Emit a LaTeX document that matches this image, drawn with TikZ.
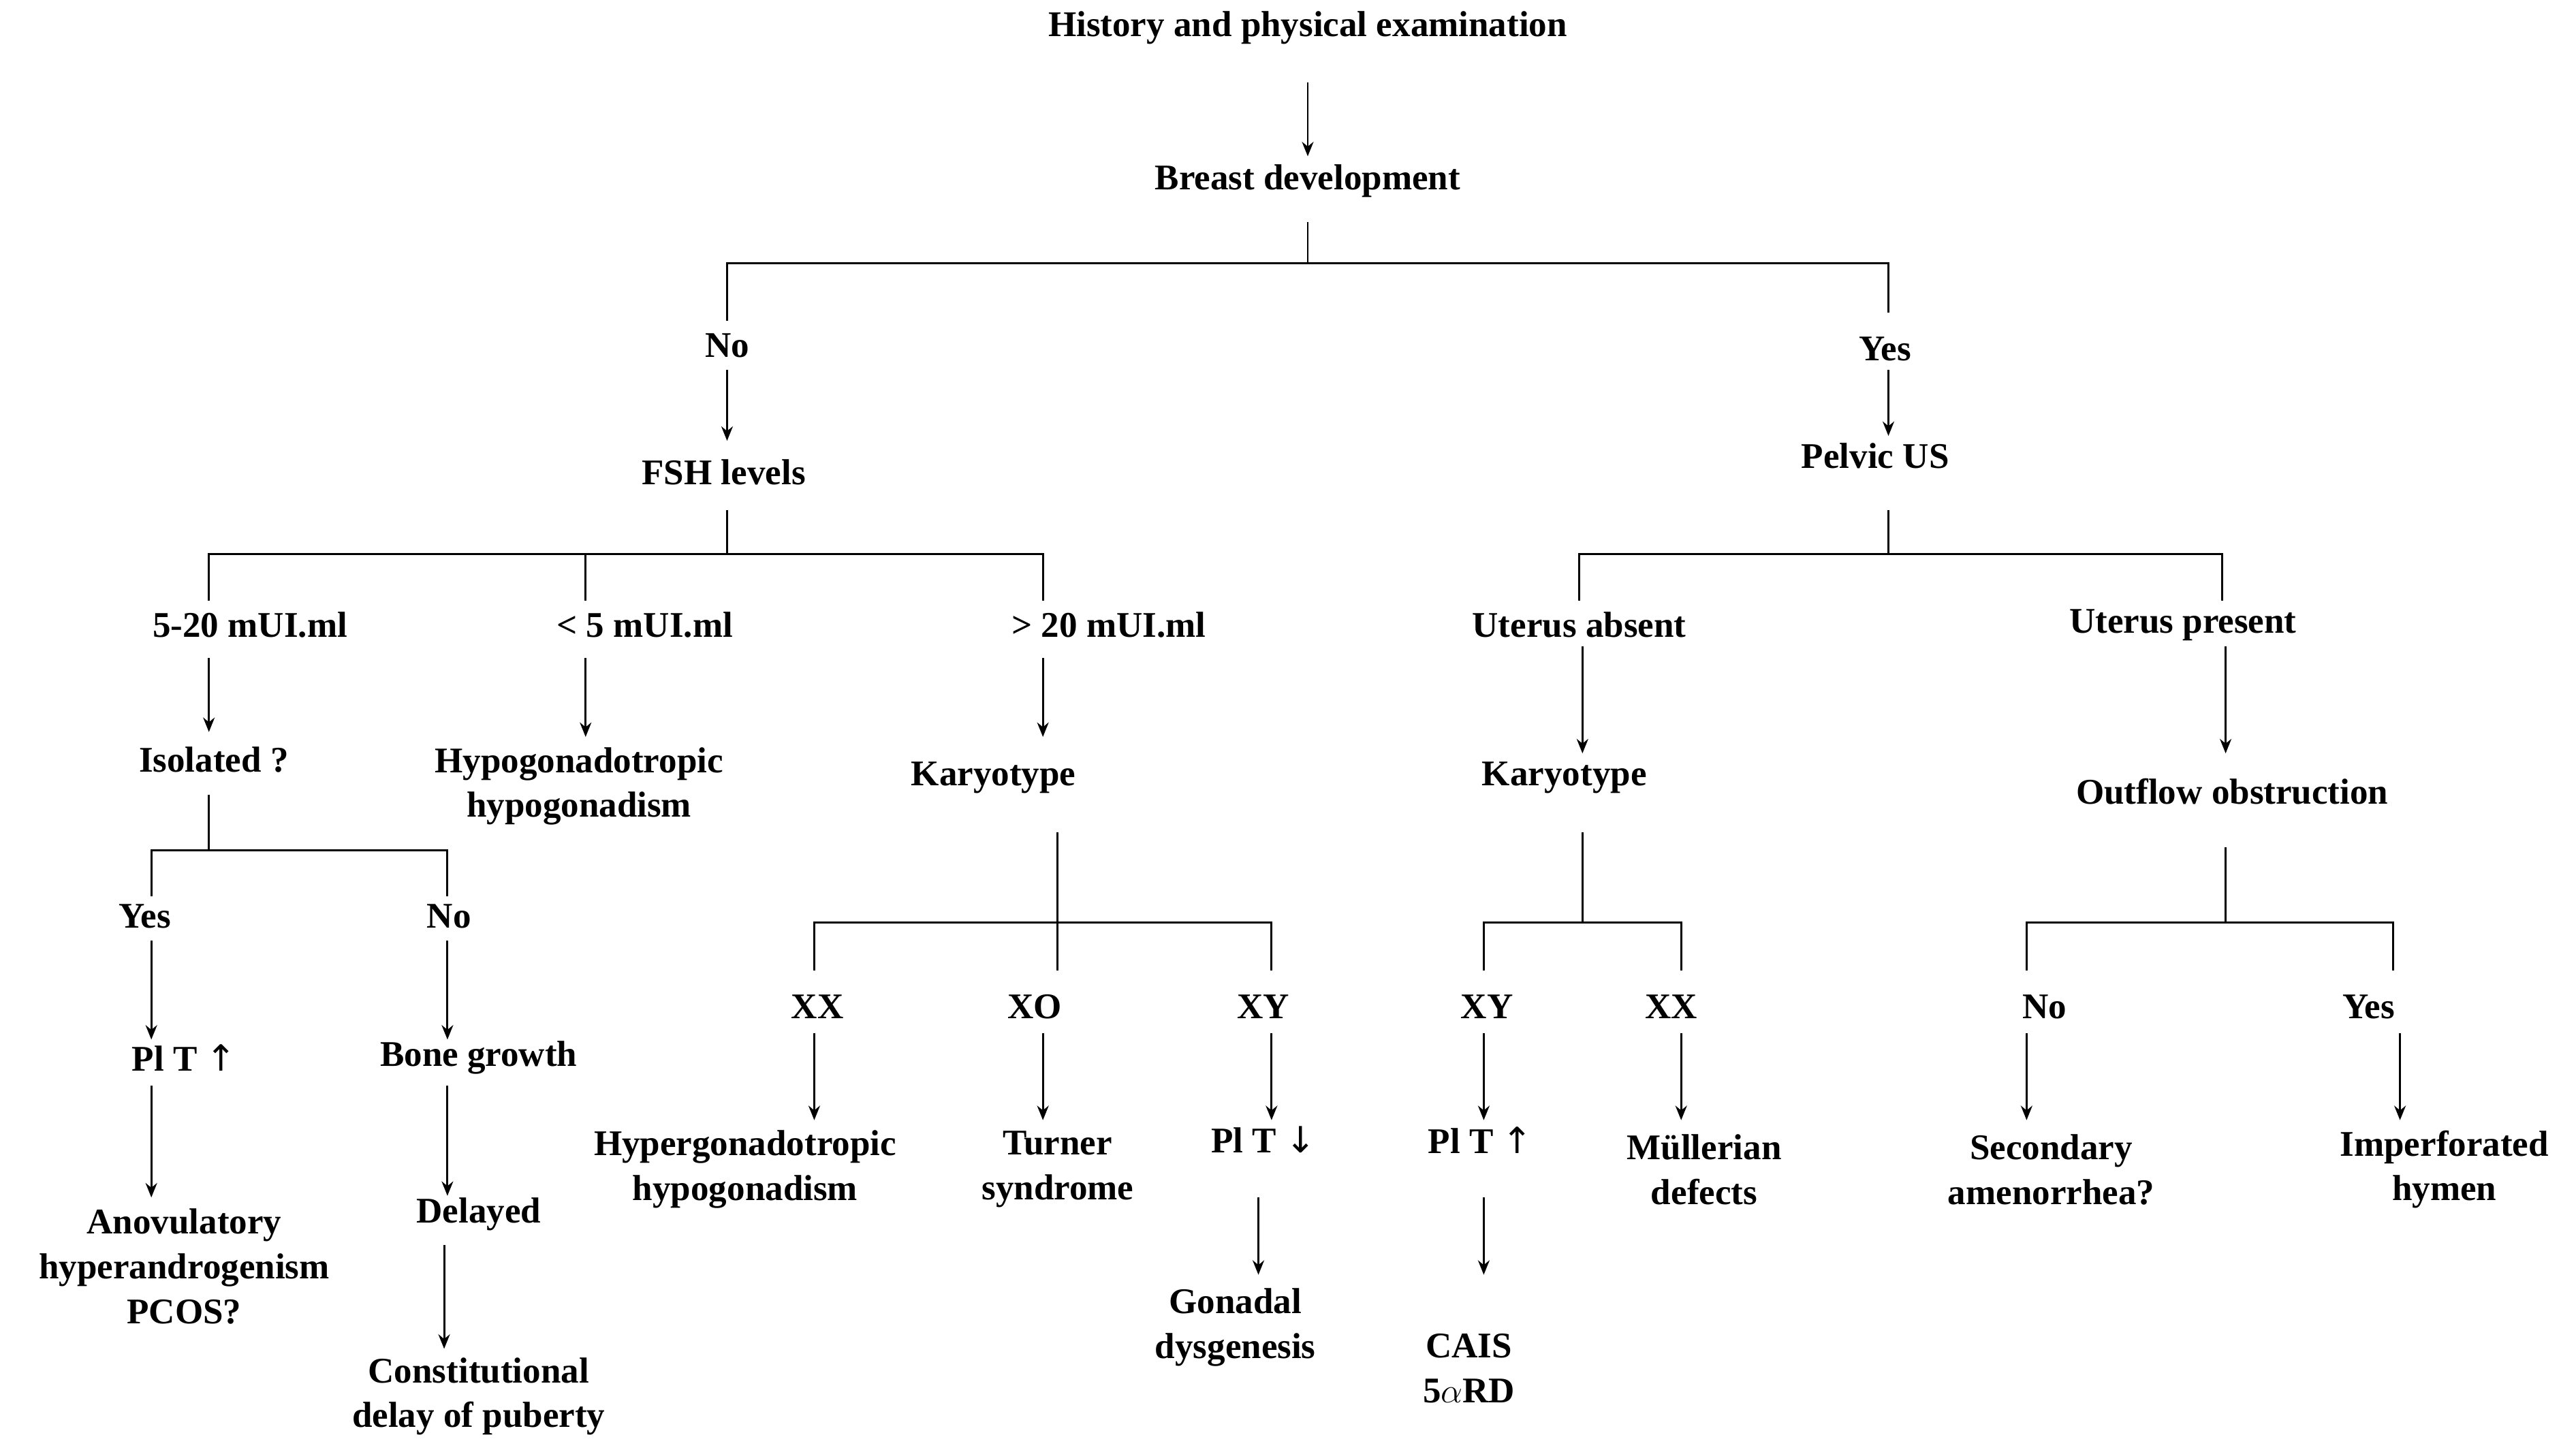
\documentclass[tikz,border=0pt]{standalone}
\usepackage{fontspec}
\setmainfont{Liberation Serif}
\newfontfamily\symf{DejaVu Sans}
\usetikzlibrary{arrows.meta}
\begin{document}
\begin{tikzpicture}[x=0.02cm,y=-0.02cm,
  lbl/.style={font=\fontsize{12.5}{15.5}\selectfont\bfseries,align=center,inner sep=1pt},
  ln/.style={line width=0.7pt},
  arr/.style={line width=0.7pt,-{Stealth[length=5pt,width=4pt]}}]
\useasboundingbox (0,0) rectangle (1566,881.5);
\newcommand{\up}{{\symf\mdseries\char"2191}}
\newcommand{\dn}{{\symf\mdseries\char"2193}}
\node[lbl] (hist) at (795,17) {History and physical examination};
\node[lbl] (breast) at (795,110) {Breast development};
\node[lbl] (no1) at (442,210) {No};
\node[lbl] (yes1) at (1146,212) {Yes};
\node[lbl] (fsh) at (440,287) {FSH levels};
\node[lbl] (pus) at (1140,277) {Pelvic US};
\node[lbl] (f1) at (152,380) {5-20 mUI.ml};
\node[lbl] (f2) at (392,380) {< 5 mUI.ml};
\node[lbl] (f3) at (674,380) {> 20 mUI.ml};
\node[lbl] (ua) at (960,380) {Uterus absent};
\node[lbl] (up) at (1327,380) {Uterus present};
\node[lbl] (iso) at (130,462) {Isolated ?};
\node[lbl] (hypo) at (352,478) {Hypogonadotropic\\hypogonadism};
\node[lbl] (kar1) at (604,473) {Karyotype};
\node[lbl] (kar2) at (951,473) {Karyotype};
\node[lbl] (out) at (1357,481) {Outflow obstruction};
\node[lbl] (yes2) at (88,557) {Yes};
\node[lbl] (no2) at (273,557) {No};
\node[lbl] (xx1) at (497,612) {XX};
\node[lbl] (xo) at (629,612) {XO};
\node[lbl] (xy1) at (768,612) {XY};
\node[lbl] (xy2) at (904,612) {XY};
\node[lbl] (xx2) at (1016,612) {XX};
\node[lbl] (no3) at (1243,612) {No};
\node[lbl] (yes3) at (1440,612) {Yes};
\node[lbl] (plt1) at (112,643) {Pl T \up};
\node[lbl] (bone) at (291,643) {Bone growth};
\node[lbl] (hyper) at (453,711) {Hypergonadotropic\\hypogonadism};
\node[lbl] (turner) at (643,711) {Turner\\syndrome};
\node[lbl] (plt2) at (768,693) {Pl T \dn};
\node[lbl] (plt3) at (900,693) {Pl T \up};
\node[lbl] (mull) at (1036,711) {Müllerian\\defects};
\node[lbl] (sec) at (1247,711) {Secondary\\amenorrhea?};
\node[lbl] (imp) at (1486,711) {Imperforated\\hymen};
\node[lbl] (anov) at (112,770) {Anovulatory\\hyperandrogenism\\PCOS?};
\node[lbl] (del) at (291,738) {Delayed};
\node[lbl] (gon) at (751,807) {Gonadal\\dysgenesis};
\node[lbl] (cais) at (893,832) {CAIS\\5$\alpha$RD};
\node[lbl] (const) at (291,849) {Constitutional\\delay of puberty};
% top
\draw[arr] (795,50) -- (795,95);
\draw[ln] (795,135) -- (795,160) (442,195) |- (1148,160) -- (1148,190);
\draw[arr] (442,225) -- (442,268);
\draw[arr] (1148,225) -- (1148,265);
% FSH
\draw[ln] (442,310) -- (442,337) (127,365) |- (634,337) -- (634,365) (356,337) -- (356,365);
\draw[arr] (127,400) -- (127,445);
\draw[arr] (356,400) -- (356,448);
\draw[arr] (634,400) -- (634,448);
% isolated
\draw[ln] (127,483) -- (127,517) (92,545) |- (272,517) -- (272,545);
\draw[arr] (92,572) -- (92,632);
\draw[arr] (272,572) -- (272,632);
\draw[arr] (92,660) -- (92,728);
\draw[arr] (272,660) -- (272,727);
\draw[arr] (270,757) -- (270,820);
% karyotype left
\draw[ln] (643,506) -- (643,590) (495,590) |- (773,561) -- (773,590);
\draw[arr] (495,628) -- (495,681);
\draw[arr] (634,628) -- (634,681);
\draw[arr] (773,628) -- (773,681);
\draw[arr] (765,728) -- (765,775);
% pelvic
\draw[ln] (1148,310) -- (1148,337) (960,365) |- (1351,337) -- (1351,365);
\draw[arr] (962,393) -- (962,458);
\draw[arr] (1353,393) -- (1353,458);
% karyotype right
\draw[ln] (962,506) -- (962,561) (902,590) |- (1022,561) -- (1022,590);
\draw[arr] (902,628) -- (902,681);
\draw[arr] (1022,628) -- (1022,681);
\draw[arr] (902,728) -- (902,775);
% outflow
\draw[ln] (1353,515) -- (1353,561) (1232,590) |- (1455,561) -- (1455,590);
\draw[arr] (1232,628) -- (1232,681);
\draw[arr] (1459,628) -- (1459,681);
\end{tikzpicture}
\end{document}
